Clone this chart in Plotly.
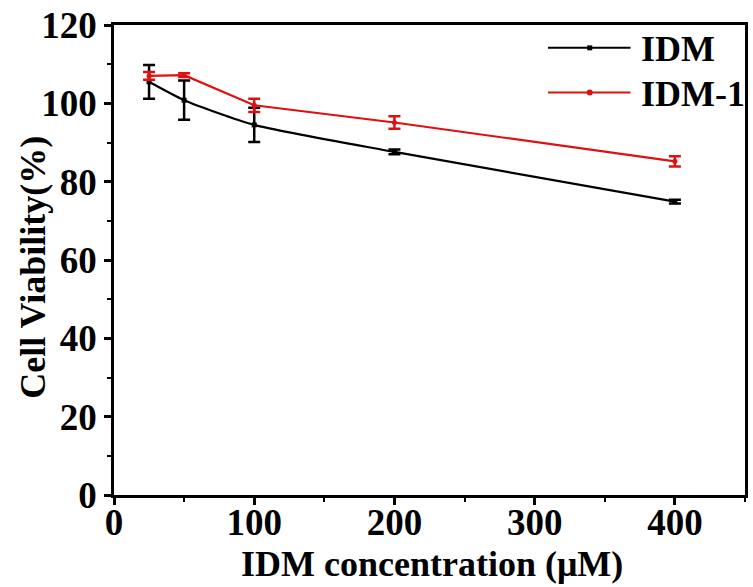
import plotly.graph_objects as go

conc = [25, 50, 100, 200, 400]
idm = [105.5, 100.8, 94.5, 87.6, 74.9]
idm_err = [4.3, 5.0, 4.4, 0.6, 0.5]
idm1 = [107.0, 107.2, 99.5, 95.1, 85.2]
idm1_err = [1.0, 0.5, 1.7, 1.6, 1.3]

FONT = "Liberation Serif"
W, H = 753, 587
L, R, T, B = 114, 5, 22, 92

fig = go.Figure()
fig.add_trace(go.Scatter(
    x=conc, y=idm, name="IDM", mode="lines+markers",
    line=dict(color="black", width=2.2, shape="spline", smoothing=0.6),
    marker=dict(symbol="square", size=5, color="black"),
    error_y=dict(type="data", array=idm_err, visible=True, color="black", thickness=2.5, width=6),
    showlegend=False,
))
fig.add_trace(go.Scatter(
    x=conc, y=idm1, name="IDM-1", mode="lines+markers",
    line=dict(color="#e01010", width=2.2),
    marker=dict(symbol="circle", size=5, color="#e01010"),
    error_y=dict(type="data", array=idm1_err, visible=True, color="#e01010", thickness=2.5, width=6),
    showlegend=False,
))

# manual legend
pw, ph = W - L - R, H - T - B
def px(xp): return (xp - L) / pw
def py(yp): return (H - B - yp) / ph
legend_items = [("IDM", "black", "square", 45), ("IDM-1", "#e01010", "circle", 90)]
for label, col, sym, ypix in legend_items:
    fig.add_shape(type="line", xref="paper", yref="paper",
                  x0=px(550), x1=px(633), y0=py(ypix), y1=py(ypix),
                  line=dict(color=col, width=2))
    if sym == "square":
        fig.add_shape(type="rect", xref="paper", yref="paper",
                      x0=px(589.5), x1=px(594.5), y0=py(ypix + 2.5), y1=py(ypix - 2.5),
                      fillcolor=col, line=dict(width=0))
    else:
        fig.add_shape(type="circle", xref="paper", yref="paper",
                      x0=px(589), x1=px(595), y0=py(ypix + 3), y1=py(ypix - 3),
                      fillcolor=col, line=dict(width=0))
    fig.add_annotation(text="<b>" + label + "</b>", xref="paper", yref="paper", x=px(641), y=py(ypix + 1),
                       xanchor="left", yanchor="middle", showarrow=False,
                       font=dict(family=FONT, size=36, color="black"))

# axis titles
fig.add_annotation(text="<b>IDM concentration (μM)</b>", xref="paper", yref="paper",
                   x=px(434), y=py(564), xanchor="center", yanchor="middle", showarrow=False,
                   font=dict(family=FONT, size=36, color="black"))
fig.add_annotation(text="<b>Cell Viability(%)</b>", xref="paper", yref="paper",
                   x=px(33), y=py(266), xanchor="center", yanchor="middle", showarrow=False,
                   textangle=-90, font=dict(family=FONT, size=36, color="black"))

axis_common = dict(
    showline=True, linecolor="black", linewidth=2.5, mirror=True,
    ticks="outside", ticklen=7, tickwidth=2.5, tickcolor="black",
    showgrid=False, zeroline=False,
    tickfont=dict(family=FONT, size=37, color="black", weight="bold"),
)
fig.update_xaxes(**axis_common, range=[0, 450], dtick=100, tick0=0, ticklabelstandoff=-14,
                 minor=dict(dtick=50, ticklen=4, tickwidth=2, tickcolor="black", ticks="outside"))
fig.update_yaxes(**axis_common, range=[0, 120], dtick=20, tick0=0,
                 minor=dict(dtick=10, ticklen=4, tickwidth=2, tickcolor="black", ticks="outside"))
fig.update_layout(
    width=W, height=H,
    margin=dict(l=L, r=R, t=T, b=B),
    paper_bgcolor="white", plot_bgcolor="white",
    font=dict(family=FONT, color="black"),
)
fig.write_html("out.html")
